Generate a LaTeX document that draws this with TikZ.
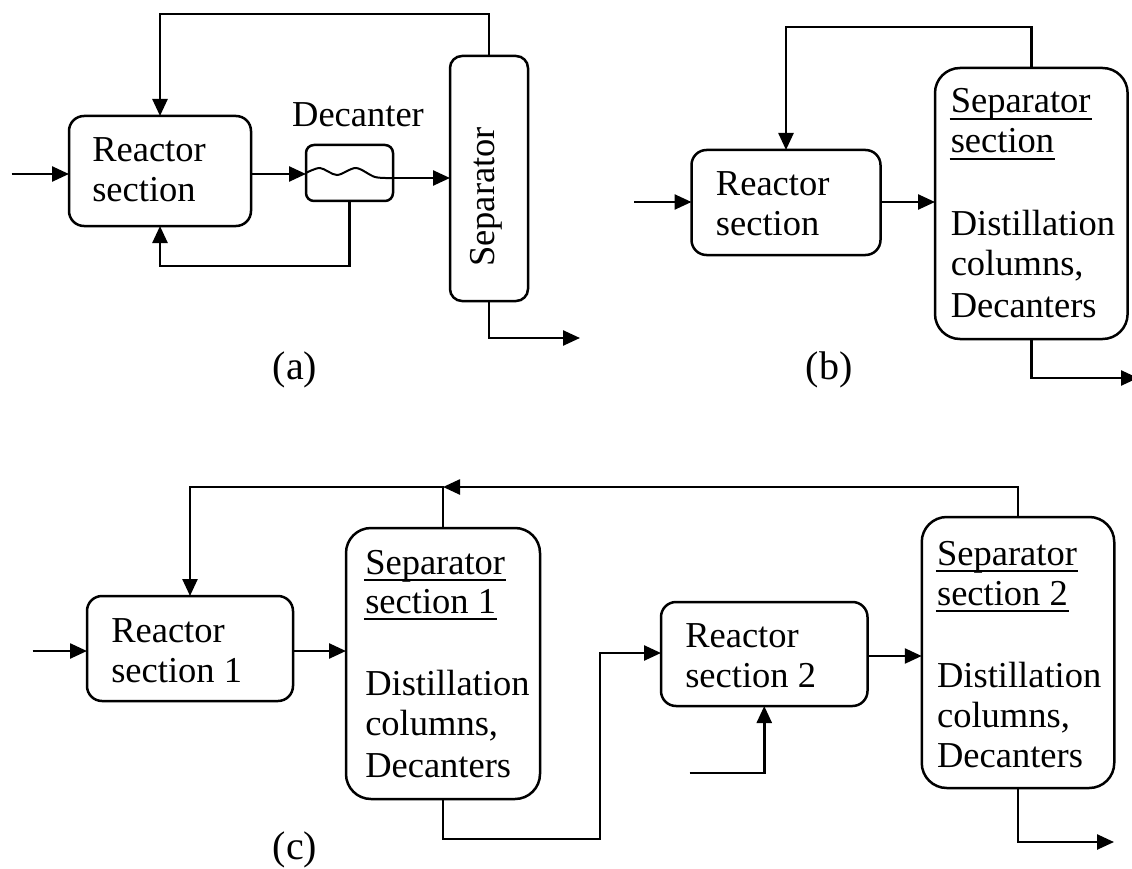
\documentclass[tikz,border=0pt]{standalone}
\usepackage{fontspec}
\setmainfont{Liberation Serif}
\usetikzlibrary{arrows.meta}
\begin{document}
\begin{tikzpicture}[x=1pt,y=-1pt,
  font=\fontsize{36.5}{40}\selectfont,
  line width=2.5pt,
  box/.style={draw,line width=2.5pt,inner sep=0pt,outer sep=0pt},
  arr/.style={-{Triangle[length=17pt,width=15pt]}},
  lbl/.style={inner sep=0pt,anchor=base west},
  captxt/.style={inner sep=0pt,font=\fontsize{40}{46}\selectfont},
  ul/.style={line width=2.2pt}]
\useasboundingbox (0,0) rectangle (1132,869);

% ---------------- (a) ----------------
\node[box,rounded corners=15pt,minimum width=182pt,minimum height=110pt] (ra) at (160,171) {};
\node[box,rounded corners=8pt,minimum width=87pt,minimum height=56pt] (dec) at (349.5,173) {};
\node[box,rounded corners=12pt,minimum width=78pt,minimum height=245pt] (sa) at (489,178.5) {};
\node[lbl] (ra1) at (91,162) {Reactor};
\node[lbl] (ra2) at (91,202) {section};
\node[inner sep=0pt,anchor=base] (decl) at (358,127) {Decanter};
\node[inner sep=0pt,rotate=90] (sal) at (486,197) {Separator};
\draw[line width=2pt] plot[smooth] coordinates {(306,173) (320,168) (337,175) (356,168) (375,177) (393,178)};

\coordinate (ina) at (11.5,174);
\coordinate (y178) at (0,178);
\coordinate (topa) at (0,14);
\coordinate (bota) at (0,266);
\coordinate (outa) at (580,338);
\draw[arr] (ina) -- (ina -| ra.west);
\draw[arr] (ra.east |- ina) -- (dec.west |- ina);
\draw[arr] (dec.east |- y178) -- (sa.west |- y178);
\draw[arr] (sa.north) -- (sa.north |- topa) -| (ra.north);
\draw[arr] (dec.south) -- (dec.south |- bota) -| (ra.south);
\draw[arr] (sa.south) |- (outa);
\node[captxt] (capa) at (295,370) {(a)};

% ---------------- (b) ----------------
\node[box,rounded corners=15pt,minimum width=189pt,minimum height=105pt] (rb) at (786,202.5) {};
\node[box,rounded corners=25pt,minimum width=192.6pt,minimum height=271pt] (sb) at (1031.3,203.5) {};
\node[lbl] (rb1) at (714.7,196) {Reactor};
\node[lbl] (rb2) at (714.7,236) {section};
\node[lbl] (sb1) at (949.5,113) {Separator};
\node[lbl] (sb2) at (949.5,153) {section};
\node[lbl] (sb3) at (949.5,235) {Distillation};
\node[lbl] (sb4) at (949.5,275) {columns,};
\node[lbl] (sb5) at (949.5,317) {Decanters};
\draw[ul] ([yshift=-6pt]sb1.base west) -- ([yshift=-6pt]sb1.base east);
\draw[ul] ([yshift=-6pt]sb2.base west) -- ([yshift=-6pt]sb2.base east);

\coordinate (inb) at (634,202);
\coordinate (topb) at (0,27);
\coordinate (outb) at (1138,378);
\draw[arr] (inb) -- (inb -| rb.west);
\draw[arr] (rb.east |- inb) -- (sb.west |- inb);
\draw[arr] (sb.north) -- (sb.north |- topb) -| (rb.north);
\draw[arr] (sb.south) |- (outb);
\node[captxt] (capb) at (829,370) {(b)};

% ---------------- (c) ----------------
\node[box,rounded corners=15pt,minimum width=206pt,minimum height=105pt] (r1) at (190,648.5) {};
\node[box,rounded corners=25pt,minimum width=194pt,minimum height=271pt] (s1) at (443,663.5) {};
\node[box,rounded corners=15pt,minimum width=206.5pt,minimum height=104pt] (r2) at (764.25,654) {};
\node[box,rounded corners=25pt,minimum width=192.5pt,minimum height=271pt] (s2) at (1018,652.5) {};

\node[lbl] (r1a) at (110,642) {Reactor};
\node[lbl] (r1b) at (110,682) {section 1};
\node[lbl] (s1a) at (364,574) {Separator};
\node[lbl] (s1b) at (364,613) {section 1};
\node[lbl] (s1c) at (364,695) {Distillation};
\node[lbl] (s1d) at (364,735) {columns,};
\node[lbl] (s1e) at (364,777) {Decanters};
\draw[ul] ([yshift=-6pt]s1a.base west) -- ([yshift=-6pt]s1a.base east);
\draw[ul] ([yshift=-6pt]s1b.base west) -- ([yshift=-6pt]s1b.base east);

\node[lbl] (r2a) at (684,647) {Reactor};
\node[lbl] (r2b) at (684,687) {section 2};
\node[lbl] (s2a) at (935.8,565) {Separator};
\node[lbl] (s2b) at (935.8,605) {section 2};
\node[lbl] (s2c) at (935.8,687) {Distillation};
\node[lbl] (s2d) at (935.8,727) {columns,};
\node[lbl] (s2e) at (935.8,767) {Decanters};
\draw[ul] ([yshift=-6pt]s2a.base west) -- ([yshift=-6pt]s2a.base east);
\draw[ul] ([yshift=-6pt]s2b.base west) -- ([yshift=-6pt]s2b.base east);

\coordinate (inc) at (32.5,651);
\coordinate (topc) at (0,487);
\coordinate (j1) at (600,839);
\coordinate (j2) at (600,653);
\coordinate (in2) at (689.5,773);
\coordinate (j3) at (764.25,773);
\coordinate (y656) at (0,656);
\coordinate (outc) at (1114,842);
\draw[arr] (inc) -- (inc -| r1.west);
\draw[arr] (r1.east |- inc) -- (s1.west |- inc);
\draw[arr] (s2.north) -- (s2.north |- topc) -- (s1.north |- topc);
\draw[arr] (s1.north) -- (s1.north |- topc) -| (r1.north);
\draw[arr] (s1.south) |- (j1) -- (j2) -- (j2 -| r2.west);
\draw[arr] (in2) -- (j3) -- (j3 |- r2.south);
\draw[arr] (r2.east |- y656) -- (s2.west |- y656);
\draw[arr] (s2.south) |- (outc);
\node[captxt] (capc) at (295,850) {(c)};
\end{tikzpicture}
\end{document}
